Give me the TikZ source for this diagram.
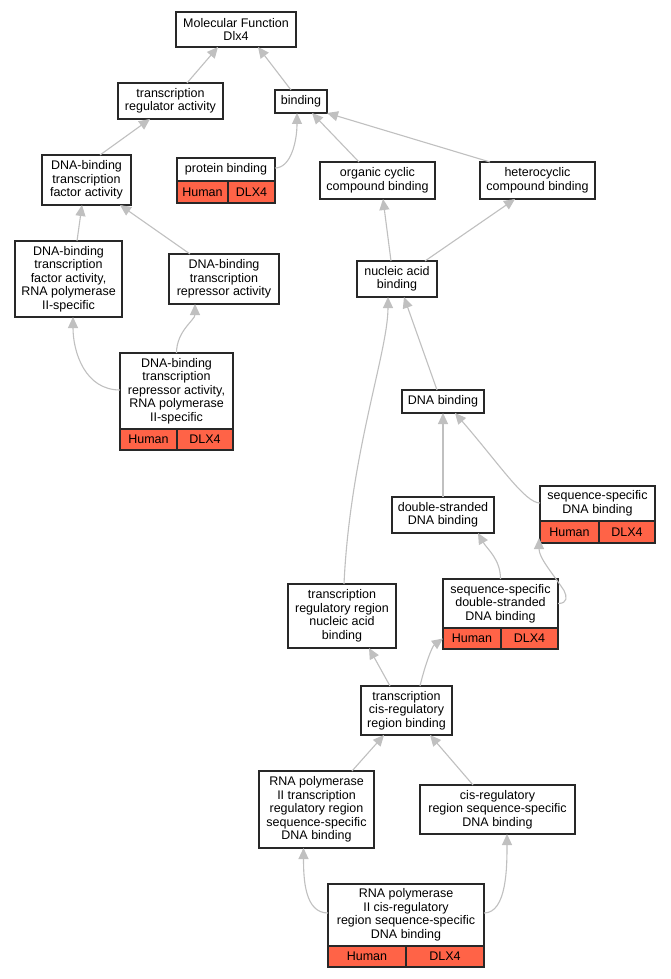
\documentclass[tikz,border=0pt]{standalone}
\usepackage{fontspec}
\setmainfont{Liberation Sans}
\usetikzlibrary{arrows.meta}
\definecolor{edgegray}{RGB}{192,192,192}
\definecolor{tomatored}{RGB}{255,99,71}
\definecolor{boxline}{RGB}{40,40,40}
\begin{document}
\begin{tikzpicture}[x=1pt,y=-1pt,
  box/.style={draw=boxline, line width=1.1pt, fill=white, anchor=north west, inner sep=0pt, outer sep=0pt, align=center, font=\fontsize{12.5}{13.5}\selectfont},
  redcell/.style={box, fill=tomatored},
  edge/.style={draw=edgegray, line width=1.1pt, -{Triangle[width=10pt,length=11pt]}}]
\useasboundingbox (0,0) rectangle (671,979);
\fill[white] (0,0) rectangle (671,979);

\node[box, minimum width=120pt, minimum height=35pt] (mf) at (176,12) {Molecular Function\\Dlx4};
\node[box, minimum width=105pt, minimum height=36pt] (tra) at (118,83) {transcription\\regulator activity};
\node[box, minimum width=52pt, minimum height=23pt] (bind) at (275,90) {binding};
\node[box, minimum width=98pt, minimum height=23pt] (pbw) at (177,158) {protein binding};
\node[redcell, minimum width=51pt, minimum height=22pt] (pbh) at (177,181) {Human};
\node[redcell, minimum width=47pt, minimum height=22pt] (pbd) at (228,181) {DLX4};
\node[box, minimum width=115pt, minimum height=37pt] (occ) at (320,162) {organic cyclic\\compound binding};
\node[box, minimum width=115pt, minimum height=37pt] (hcc) at (480,162) {heterocyclic\\compound binding};
\node[box, minimum width=89pt, minimum height=50pt] (dbtf) at (42,155) {DNA-binding\\transcription\\factor activity};
\node[box, minimum width=107pt, minimum height=76pt] (dbtf2) at (15,241) {DNA-binding\\transcription\\factor activity,\\RNA polymerase\\II-specific};
\node[box, minimum width=110pt, minimum height=50pt] (rep) at (169,254) {DNA-binding\\transcription\\repressor activity};
\node[box, minimum width=113pt, minimum height=76pt] (rep2w) at (120,353) {DNA-binding\\transcription\\repressor activity,\\RNA polymerase\\II-specific};
\node[redcell, minimum width=57pt, minimum height=21pt] (rep2h) at (120,429) {Human};
\node[redcell, minimum width=56pt, minimum height=21pt] (rep2d) at (177,429) {DLX4};
\node[box, minimum width=80pt, minimum height=36pt] (nab) at (357,261) {nucleic acid\\binding};
\node[box, minimum width=82pt, minimum height=23pt] (dnab) at (402,390) {DNA binding};
\node[box, minimum width=102pt, minimum height=36pt] (dsd) at (392,497) {double-stranded\\DNA binding};
\node[box, minimum width=115pt, minimum height=35pt] (ssdw) at (540,486) {sequence-specific\\DNA binding};
\node[redcell, minimum width=59pt, minimum height=22pt] (ssdh) at (540,521) {Human};
\node[redcell, minimum width=56pt, minimum height=22pt] (ssdd) at (599,521) {DLX4};
\node[box, minimum width=115pt, minimum height=49pt] (ssdsw) at (443,579) {sequence-specific\\double-stranded\\DNA binding};
\node[redcell, minimum width=58pt, minimum height=21pt] (ssdsh) at (443,628) {Human};
\node[redcell, minimum width=57pt, minimum height=21pt] (ssdsd) at (501,628) {DLX4};
\node[box, minimum width=108pt, minimum height=64pt] (trr) at (288,584) {transcription\\regulatory region\\nucleic acid\\binding};
\node[box, minimum width=91pt, minimum height=49pt] (tcr) at (361,686) {transcription\\cis-regulatory\\region binding};
\node[box, minimum width=115pt, minimum height=77pt] (p2trr) at (259,771) {RNA polymerase\\II transcription\\regulatory region\\sequence-specific\\DNA binding};
\node[box, minimum width=155pt, minimum height=49pt] (cis) at (420,785) {cis-regulatory\\region sequence-specific\\DNA binding};
\node[box, minimum width=156pt, minimum height=62pt] (p2cw) at (328,884) {RNA polymerase\\II cis-regulatory\\region sequence-specific\\DNA binding};
\node[redcell, minimum width=78pt, minimum height=21pt] (p2ch) at (328,946) {Human};
\node[redcell, minimum width=78pt, minimum height=21pt] (p2cd) at (406,946) {DLX4};

\draw[edge] ([xshift=16.5pt]tra.north) -- ([xshift=-18pt]mf.south);
\draw[edge] ([xshift=-10pt]bind.north) -- ([xshift=22pt]mf.south);
\draw[edge] ([yshift=1.5pt]pbw.east) .. controls +(16,0) and +(0,28) .. ([xshift=-4pt]bind.south);
\draw[edge] ([xshift=-18.5pt]occ.north) -- ([xshift=11pt]bind.south);
\draw[edge] ([xshift=-47.5pt]hcc.north) -- (bind.south east);
\draw[edge] ([xshift=13.5pt]dbtf.north) -- ([xshift=-20.5pt]tra.south);
\draw[edge] ([xshift=8.5pt]dbtf2.north) -- ([xshift=-4.5pt]dbtf.south);
\draw[edge] ([xshift=-34pt]rep.north) -- ([xshift=33.5pt]dbtf.south);
\draw[edge] ([yshift=1pt]rep2w.west) .. controls +(-35,0) and +(0,35) .. ([xshift=4.5pt]dbtf2.south);
\draw[edge] (rep2w.north) .. controls +(0,-22) and +(0,16) .. ([xshift=-29pt]rep.south);
\draw[edge] ([xshift=-6pt]nab.north) -- ([xshift=5.5pt]occ.south);
\draw[edge] ([xshift=28pt]nab.north) -- ([xshift=-22.5pt]hcc.south);
\draw[edge] ([xshift=-6pt]dnab.north) -- ([xshift=7pt]nab.south);
\draw[edge] ([xshift=2pt]trr.north) .. controls +(6,-130) and +(0,55) .. ([xshift=-9pt]nab.south);
\draw[edge] (dsd.north) -- (dnab.south);
\draw[edge] ([yshift=0.5pt]ssdw.west) .. controls +(-15,0) and +(45,52) .. ([xshift=12pt]dnab.south);
\draw[edge] (ssdsw.north) .. controls +(0,-20) and +(9,16) .. ([xshift=35pt]dsd.south);
\draw[edge] (ssdsw.east) .. controls +(10,0) and +(3,6) .. ([xshift=6pt,yshift=13pt]ssdsw.east) .. controls +(-12,-18) and +(0,20) .. ([xshift=-1pt,yshift=5pt]ssdh.south west);
\draw[edge] ([xshift=-16.5pt]tcr.north) -- ([xshift=27pt]trr.south);
\draw[edge] ([xshift=13.5pt]tcr.north) .. controls +(5,-21) and +(-11,8) .. (ssdsh.west);
\draw[edge] ([xshift=35.5pt]p2trr.north) -- ([xshift=-22.5pt]tcr.south);
\draw[edge] ([xshift=-24.5pt]cis.north) -- ([xshift=23.5pt]tcr.south);
\draw[edge] ([yshift=2pt]p2cw.west) .. controls +(-23,0) and +(0,32) .. ([xshift=-13pt]p2trr.south);
\draw[edge] ([yshift=2pt]p2cw.east) .. controls +(23,0) and +(0,32) .. ([xshift=9.5pt]cis.south);
\end{tikzpicture}
\end{document}
